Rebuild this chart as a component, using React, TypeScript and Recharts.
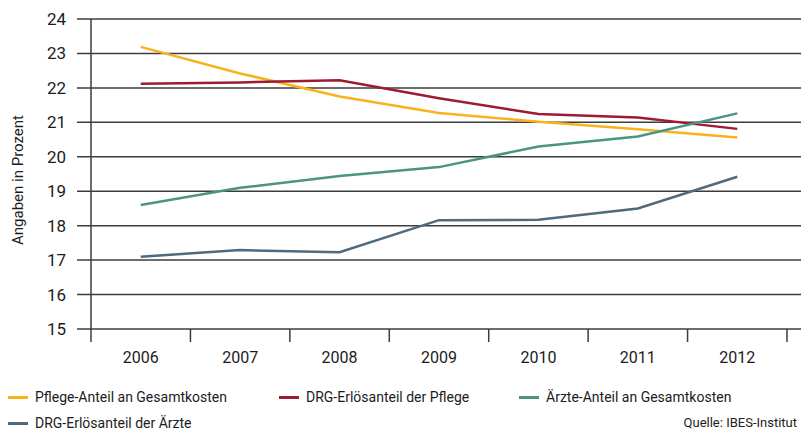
import { CartesianGrid, Line, LineChart, XAxis, YAxis } from "recharts";

const years = ["2006", "2007", "2008", "2009", "2010", "2011", "2012"];
const pflegeAnteil = [23.19, 22.42, 21.75, 21.27, 21.02, 20.8, 20.56];
const drgPflege = [22.12, 22.16, 22.22, 21.7, 21.24, 21.14, 20.81];
const aerzteAnteil = [18.6, 19.1, 19.44, 19.7, 20.3, 20.59, 21.26];
const drgAerzte = [17.1, 17.29, 17.23, 18.16, 18.17, 18.5, 19.42];
const yTicks = [15, 16, 17, 18, 19, 20, 21, 22, 23, 24];

const series = [
  { key: "pflegeAnteil", name: "Pflege-Anteil an Gesamtkosten", color: "#f9b21b", values: pflegeAnteil },
  { key: "drgPflege", name: "DRG-Erlösanteil der Pflege", color: "#9e1b32", values: drgPflege },
  { key: "aerzteAnteil", name: "Ärzte-Anteil an Gesamtkosten", color: "#4b9484", values: aerzteAnteil },
  { key: "drgAerzte", name: "DRG-Erlösanteil der Ärzte", color: "#4e6a7e", values: drgAerzte },
];

const data = years.map((year, i) => {
  const row: Record<string, string | number> = { year };
  series.forEach((s) => {
    row[s.key] = s.values[i];
  });
  return row;
});

const W = 801;
const H = 432;
const MARGIN = { top: 19, right: 14, left: 0, bottom: 63 };
const Y_AXIS_W = 91;
const BAND = (W - MARGIN.left - MARGIN.right - Y_AXIS_W) / years.length;
const FONT = "Roboto, 'Noto Sans', sans-serif";
const GRID = "#3c3c3c";
const TEXT = "#1c1c1c";

// horizontal grid lines run a bit past the plot on both sides (left part doubles as y ticks)
function GridLine(props: any) {
  const { x1, x2, y1, y2 } = props;
  return <line x1={x1 - 14} x2={x2 + 14} y1={y1} y2={y2} stroke={GRID} strokeWidth={1.5} />;
}

// year label in the middle of its band, tick marks on the band edges
function YearTick(props: any) {
  const { x, y, payload, index } = props;
  const last = index === years.length - 1;
  return (
    <g>
      <line x1={x - BAND / 2} x2={x - BAND / 2} y1={y} y2={y + 13} stroke={GRID} strokeWidth={1.5} />
      {last && (
        <line x1={x + BAND / 2} x2={x + BAND / 2} y1={y} y2={y + 13} stroke={GRID} strokeWidth={1.5} />
      )}
      <text x={x} y={y + 34} textAnchor="middle" fill={TEXT} fontSize={16} fontFamily={FONT}>
        {payload.value}
      </text>
    </g>
  );
}

function LegendItem({ name, color, left, top }: { name: string; color: string; left: number; top: number }) {
  return (
    <div style={{ position: "absolute", left, top, display: "flex", alignItems: "center", whiteSpace: "nowrap" }}>
      <span style={{ display: "inline-block", width: 20, height: 3, background: color, marginRight: 7 }} />
      <span style={{ fontSize: 14, color: TEXT, fontFamily: FONT }}>{name}</span>
    </div>
  );
}

const legendPos = [
  { left: 8, top: 389 },
  { left: 279, top: 389 },
  { left: 519, top: 389 },
  { left: 8, top: 415 },
];

export default function App() {
  return (
    <div style={{ position: "absolute", left: 0, top: 0, width: W, height: H, overflow: "hidden", background: "#fff" }}>
      <LineChart width={W} height={H} data={data} margin={MARGIN}>
        <CartesianGrid vertical={false} horizontal={(p: any) => <GridLine {...p} />} />
        <XAxis
          dataKey="year"
          axisLine={false}
          tickLine={false}
          tickSize={0}
          tickMargin={0}
          height={40}
          interval={0}
          padding={{ left: BAND / 2, right: BAND / 2 }}
          tick={<YearTick />}
        />
        <YAxis
          domain={[15, 24]}
          ticks={yTicks}
          width={Y_AXIS_W}
          axisLine={{ stroke: GRID, strokeWidth: 1.5 }}
          tickLine={false}
          tickSize={14}
          tickMargin={11}
          tick={{ fill: TEXT, fontSize: 17, fontFamily: FONT }}
          label={{
            value: "Angaben in Prozent",
            angle: -90,
            position: "center",
            dx: -28,
            dy: 6,
            fill: TEXT,
            fontSize: 15,
            fontFamily: FONT,
          }}
        />
        {series.map((s) => (
          <Line
            key={s.key}
            type="linear"
            dataKey={s.key}
            name={s.name}
            stroke={s.color}
            strokeWidth={2.5}
            dot={false}
            isAnimationActive={false}
          />
        ))}
      </LineChart>
      {series.map((s, i) => (
        <LegendItem key={s.key} name={s.name} color={s.color} left={legendPos[i].left} top={legendPos[i].top} />
      ))}
      <div
        style={{
          position: "absolute",
          right: 4,
          top: 415,
          fontSize: 13,
          color: TEXT,
          fontFamily: FONT,
          whiteSpace: "nowrap",
        }}
      >
        Quelle: IBES-Institut
      </div>
    </div>
  );
}
